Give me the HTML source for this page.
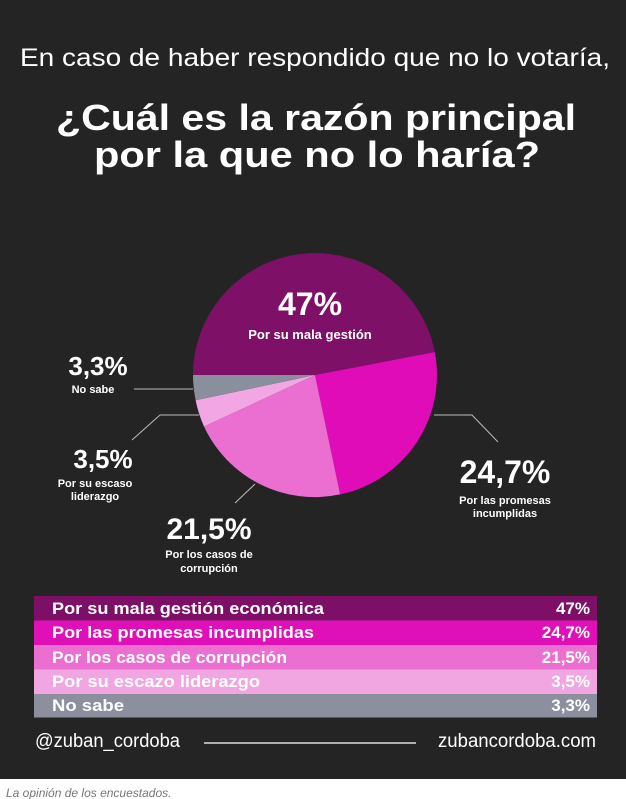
<!DOCTYPE html>
<html><head><meta charset="utf-8"><style>
html,body{margin:0;padding:0;background:#fff;}
svg{display:block;}
text{font-family:"Liberation Sans",sans-serif;fill:#fff;}
.b{font-weight:bold;}
</style></head><body>
<svg width="626" height="799" viewBox="0 0 626 799">
<rect x="0" y="0" width="626" height="779" fill="#242424"/>
<text x="20" y="66" font-size="25" textLength="590" lengthAdjust="spacingAndGlyphs">En caso de haber respondido que no lo votaría,</text>
<text class="b" x="56" y="130" font-size="36" textLength="520" lengthAdjust="spacingAndGlyphs">¿Cuál es la razón principal</text>
<text class="b" x="94" y="167" font-size="36" textLength="446" lengthAdjust="spacingAndGlyphs">por la que no lo haría?</text>
<!-- pie center 315,375 r122 -->
<path d="M315,375 L193,375 A122,122 0 0 1 434.8,352.1 Z" fill="#7f1068"/>
<path d="M315,375 L434.8,352.1 A122,122 0 0 1 340.1,494.4 Z" fill="#e00cb8"/>
<path d="M315,375 L340.1,494.4 A122,122 0 0 1 204,426.5 Z" fill="#ea6fd0"/>
<path d="M315,375 L204,426.5 A122,122 0 0 1 195.6,400.3 Z" fill="#f2a6e3"/>
<path d="M315,375 L195.6,400.3 A122,122 0 0 1 193,375 Z" fill="#8a8f9d"/>
<text class="b" x="310" y="315" font-size="32" text-anchor="middle">47%</text>
<text class="b" x="310" y="339" font-size="13" text-anchor="middle">Por su mala gestión</text>
<g stroke="#bbb" stroke-width="1" fill="none">
<line x1="134" y1="389" x2="193" y2="389"/>
<polyline points="132,440 160,415 199,415"/>
<line x1="235" y1="503" x2="255" y2="484"/>
<polyline points="434,415 472,415 498,442"/>
</g>
<text class="b" x="98" y="375" font-size="26" text-anchor="middle">3,3%</text>
<text class="b" x="93" y="393" font-size="11" text-anchor="middle">No sabe</text>
<text class="b" x="103" y="468" font-size="26" text-anchor="middle">3,5%</text>
<text class="b" x="95" y="487" font-size="11" text-anchor="middle">Por su escaso</text>
<text class="b" x="95" y="500" font-size="11" text-anchor="middle">liderazgo</text>
<text class="b" x="209" y="539" font-size="30" text-anchor="middle">21,5%</text>
<text class="b" x="209" y="558" font-size="11" text-anchor="middle">Por los casos de</text>
<text class="b" x="209" y="572" font-size="11" text-anchor="middle">corrupción</text>
<text class="b" x="505" y="483" font-size="32" text-anchor="middle">24,7%</text>
<text class="b" x="505" y="504" font-size="11" text-anchor="middle">Por las promesas</text>
<text class="b" x="505" y="517" font-size="11" text-anchor="middle">incumplidas</text>
<!-- table -->
<rect x="34" y="596" width="563" height="24.5" fill="#7e0f66"/>
<rect x="34" y="620.5" width="563" height="24.5" fill="#e010b8"/>
<rect x="34" y="645" width="563" height="24.5" fill="#ea6fd0"/>
<rect x="34" y="669.5" width="563" height="24.5" fill="#f1a6e2"/>
<rect x="34" y="694" width="563" height="23.5" fill="#8c909e"/>
<g class="b" font-size="17" font-weight="bold">
<text x="52" y="614" textLength="272" lengthAdjust="spacingAndGlyphs">Por su mala gestión económica</text>
<text x="590" y="614" text-anchor="end">47%</text>
<text x="52" y="638" textLength="262" lengthAdjust="spacingAndGlyphs">Por las promesas incumplidas</text>
<text x="590" y="638" text-anchor="end">24,7%</text>
<text x="52" y="663" textLength="235" lengthAdjust="spacingAndGlyphs">Por los casos de corrupción</text>
<text x="590" y="663" text-anchor="end">21,5%</text>
<text x="52" y="687" textLength="208" lengthAdjust="spacingAndGlyphs">Por su escazo liderazgo</text>
<text x="590" y="687" text-anchor="end">3,5%</text>
<text x="52" y="711" textLength="72" lengthAdjust="spacingAndGlyphs">No sabe</text>
<text x="590" y="711" text-anchor="end">3,3%</text>
</g>
<text x="35" y="747" font-size="19" textLength="145" lengthAdjust="spacingAndGlyphs">@zuban_cordoba</text>
<line x1="204" y1="743" x2="416" y2="743" stroke="#ddd" stroke-width="1.5"/>
<text x="438" y="747" font-size="19" textLength="158" lengthAdjust="spacingAndGlyphs">zubancordoba.com</text>
<text x="6" y="797" font-size="12" font-style="italic" style="fill:#777">La opinión de los encuestados.</text>
</svg>
</body></html>
